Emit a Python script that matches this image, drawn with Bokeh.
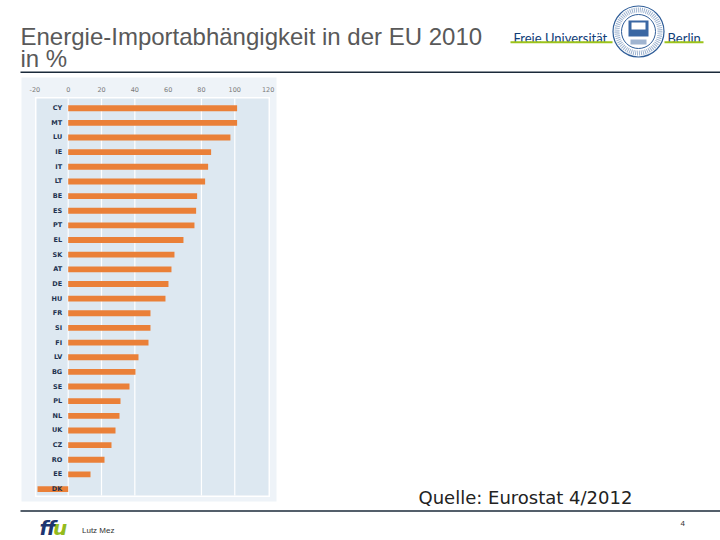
from bokeh.plotting import figure
from bokeh.models import Range1d
from bokeh.core.properties import value
from bokeh.embed import file_html
from bokeh.resources import INLINE

# Energy import dependency 2010, %
countries = ["CY", "MT", "LU", "IE", "IT", "LT", "BE", "ES", "PT", "EL", "SK", "AT", "DE", "HU",
             "FR", "SI", "FI", "LV", "BG", "SE", "PL", "NL", "UK", "CZ", "RO", "EE", "DK"]
import_dep = [101.4, 101.4, 97.4, 85.8, 84.0, 82.2, 77.4, 76.8, 75.8, 69.2, 63.8, 62.0, 60.2, 58.4,
              49.4, 49.4, 48.2, 42.2, 40.4, 36.8, 31.4, 30.8, 28.4, 26.0, 21.8, 13.4, -18.4]
tick_values = [-20, 0, 20, 40, 60, 80, 100, 120]
tick_labels = ["-20", "0", "20", "40", "60", "80", "100", "120"]
grid_values = [0, 20, 40, 80, 100]

title_lines = ["Energie-Importabhängigkeit in der EU 2010", "in %"]
source_text = "Quelle: Eurostat 4/2012"

navy = "#1b2a3a"
orange = "#ea8038"

W, H = 720, 540
# slide coordinates: x 0..720, y 0..540 downwards
p = figure(width=W, height=H, x_range=Range1d(0, W), y_range=Range1d(H, 0),
           x_axis_type=None, y_axis_type=None, output_backend="svg",
           toolbar_location=None, min_border=0, outline_line_color=None)
p.grid.visible = False
p.background_fill_color = "white"

# chart scales mapped onto the chart image area (0 at x=67.7, 100 at x=234.3)
p.extra_x_ranges = {"v": Range1d(-40.64, 391.6)}
p.extra_y_ranges = {"c": Range1d(29.51, -7.352)}
ys = list(range(len(countries)))

# title
p.text(x=[20, 20], y=[35.7, 57.5], text=title_lines, text_font=value("Liberation Sans"),
       text_font_size="24px", text_color="#595959", text_baseline="alphabetic")

# logo
p.text(x=[513], y=[37], text=["Freie Universität"], text_font=value("Lato"),
       text_font_size="13px", text_color="#0f3d78", text_baseline="alphabetic")
p.text(x=[667], y=[37], text=["Berlin"], text_font=value("Lato"),
       text_font_size="13px", text_color="#0f3d78", text_baseline="alphabetic")
p.segment(x0=[510], y0=[41.7], x1=[612], y1=[41.7], line_color="#9cc31a", line_width=2)
p.segment(x0=[664], y0=[41.7], x1=[703], y1=[41.7], line_color="#9cc31a", line_width=2)
p.circle(x=[638], y=[31], radius=25.5, fill_color="white", line_color="#2f5d98", line_width=1.2)
p.circle(x=[638], y=[31], radius=21.5, fill_color=None, line_color="#9fb4d0", line_width=5,
         line_dash="1 1")
p.circle(x=[638], y=[31], radius=17, fill_color="white", line_color="#2f5d98", line_width=1)
p.quad(left=[628], right=[648], top=[20], bottom=[36], fill_color="#3a67a3", line_color=None)
p.quad(left=[631], right=[645], top=[22], bottom=[29], fill_color="white", line_color=None)
p.quad(left=[630], right=[646], top=[39], bottom=[44], fill_color="#9fb4d0", line_color=None)

# rules
p.segment(x0=[20, 20], y0=[71.7, 510.5], x1=[720, 720], y1=[71.7, 510.5],
          line_color=navy, line_width=1.5)

# chart image background
p.quad(left=[21], right=[276], top=[77], bottom=[501], fill_color="#eef3f8", line_color=None)
p.quad(left=[34.5], right=[269.5], top=[96.5], bottom=[496.5], fill_color="white", line_color=None)
p.quad(left=[36], right=[268], top=[98], bottom=[495], fill_color="#dde8f1", line_color=None)

# grid and tick labels
p.segment(x0=grid_values, y0=[98] * len(grid_values), x1=grid_values, y1=[495] * len(grid_values),
          x_range_name="v", line_color="white", line_width=1.2)
p.text(x=tick_values, y=[89] * len(tick_values), text=tick_labels, x_range_name="v",
       text_font=value("DejaVu Sans"), text_font_size="6.5px", text_color="#7a7a7a",
       text_align="center", text_baseline="middle")

# bars and country labels
p.hbar(y=ys, left=0, right=import_dep, height=0.4, x_range_name="v", y_range_name="c",
       fill_color=orange, line_color=None)
p.text(x=[0] * len(ys), y=ys, text=countries, x_offset=-6, x_range_name="v", y_range_name="c",
       text_font=value("DejaVu Sans"), text_font_size="6.5px", text_font_style="bold",
       text_color="#22324f", text_align="right", text_baseline="middle")

# source
p.text(x=[418], y=[496.7], text=[source_text], text_font=value("DejaVu Sans"),
       text_font_size="18px", text_color="#222222", text_baseline="alphabetic")

# footer
p.text(x=[39], y=[527], text=["ff"], text_font=value("DejaVu Sans"), text_font_size="20px",
       text_font_style="bold italic", text_color="#1d3570", text_baseline="middle")
p.text(x=[52.5], y=[527], text=["u"], text_font=value("DejaVu Sans"), text_font_size="20px",
       text_font_style="bold italic", text_color="#94bb1c", text_baseline="middle")
p.text(x=[81.5], y=[530], text=["Lutz Mez"], text_font=value("Liberation Sans"),
       text_font_size="8px", text_color="#333333", text_baseline="middle")
p.text(x=[680], y=[523], text=["4"], text_font=value("Liberation Sans"),
       text_font_size="8px", text_color="#333333", text_baseline="middle")

open("out.html", "w").write(file_html(p, INLINE))
